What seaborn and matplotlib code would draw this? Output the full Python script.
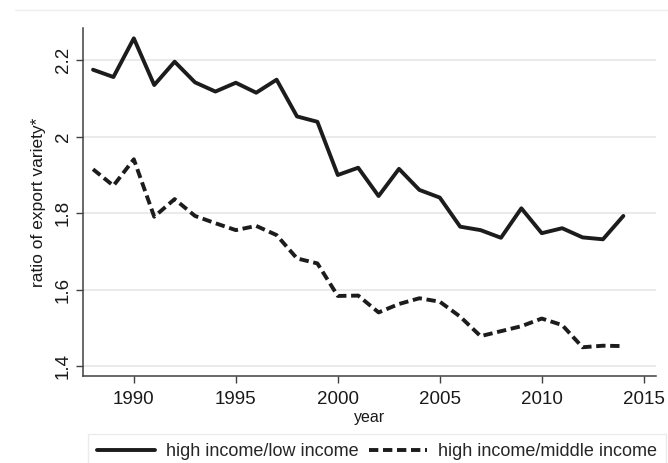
import numpy as np
import pandas as pd
import matplotlib.pyplot as plt
import seaborn as sns
from matplotlib.lines import Line2D
from matplotlib.ticker import FuncFormatter

# values
years = list(range(1988, 2015))
high_low = [2.175, 2.156, 2.257, 2.135, 2.196, 2.142, 2.118, 2.141, 2.115, 2.149,
            2.053, 2.039, 1.900, 1.919, 1.845, 1.916, 1.861, 1.841, 1.765, 1.756,
            1.736, 1.813, 1.748, 1.761, 1.737, 1.732, 1.793]
high_mid = [1.915, 1.872, 1.941, 1.791, 1.837, 1.793, 1.774, 1.756, 1.767, 1.743,
            1.682, 1.669, 1.584, 1.585, 1.541, 1.563, 1.578, 1.569, 1.530, 1.479,
            1.492, 1.505, 1.525, 1.508, 1.450, 1.454, 1.453]
series_names = ['high income/low income', 'high income/middle income']
x_ticks = [1990, 1995, 2000, 2005, 2010, 2015]
y_ticks = [1.4, 1.6, 1.8, 2.0, 2.2]

df = pd.DataFrame({
    'year': years * 2,
    'ratio': high_low + high_mid,
    'series': [series_names[0]] * len(years) + [series_names[1]] * len(years),
})

sns.set_style('white')
plt.rcParams['font.family'] = ['Liberation Sans', 'DejaVu Sans']

fig = plt.figure(figsize=(6.68, 4.63), dpi=100)
ax = fig.add_axes([0.124, 0.188, 0.858, 0.7515])

dark = '#1c1c1c'
sns.lineplot(data=df, x='year', y='ratio', hue='series', style='series',
             palette=[dark, dark], dashes={series_names[0]: '', series_names[1]: (2.4, 1.2)},
             linewidth=2.8, ax=ax, legend=False)

ax.set_xlim(1987.5, 2015.6)
ax.set_ylim(1.375, 2.284)
ax.set_xticks(x_ticks)
ax.set_yticks(y_ticks)
ax.yaxis.set_major_formatter(FuncFormatter(lambda v, p: '%g' % v))
ax.grid(axis='y', color='#e6e6e6', linewidth=1.2)
ax.grid(axis='x', visible=False)
for s in ['top', 'right']:
    ax.spines[s].set_visible(False)
for s in ['left', 'bottom']:
    ax.spines[s].set_color('#404040')
    ax.spines[s].set_linewidth(1.1)
ax.tick_params(axis='both', which='major', direction='out', length=5, width=1,
               color='#404040', labelsize=13.5, labelcolor='#1a1a1a', left=True, bottom=True)
ax.tick_params(axis='x', pad=6)
ax.tick_params(axis='y', pad=3)
for lab in ax.get_yticklabels():
    lab.set_rotation(90)
    lab.set_va('center')

ax.set_xlabel('year', fontsize=11.5, color='#1a1a1a', labelpad=1)
ax.set_ylabel('ratio of export variety*', fontsize=12.5, color='#1a1a1a', labelpad=6)

handles = [Line2D([], [], color=dark, linewidth=2.8),
           Line2D([], [], color=dark, linewidth=2.8, dashes=(2.4, 1.2))]
leg = fig.legend(handles, series_names, loc='upper left', bbox_to_anchor=(0.132, 0.063),
                 ncol=2, frameon=True, fancybox=False, fontsize=13, handlelength=3.2,
                 columnspacing=0.6, handletextpad=0.6, borderpad=0.5, borderaxespad=0)
leg.get_frame().set_edgecolor('#e6e6e6')
leg.get_frame().set_linewidth(1)

# faint outer plot-region line along the top
fig.add_artist(Line2D([0.022, 1.0], [0.978, 0.978], color='#efefef', linewidth=1,
                      transform=fig.transFigure))

fig.savefig('out.png', dpi=100)
